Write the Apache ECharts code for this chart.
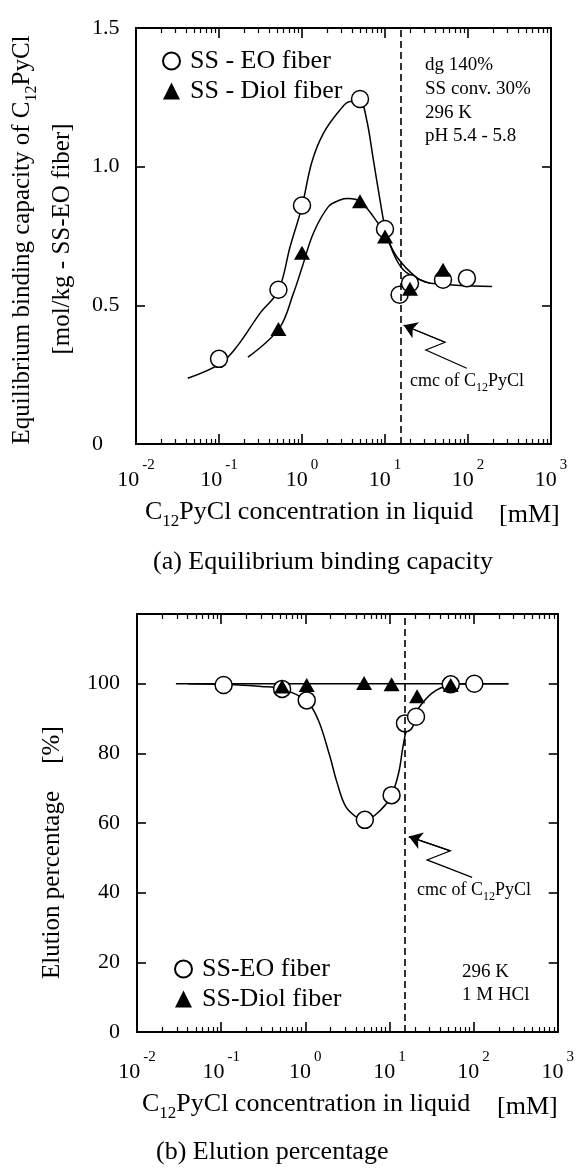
<!DOCTYPE html>
<html><head><meta charset="utf-8">
<script src="https://cdn.jsdelivr.net/npm/echarts@6/dist/echarts.min.js"></script>
<style>html,body{margin:0;padding:0;background:#fff}#c{width:577px;height:1170px}</style>
</head><body><div id="c"></div>
<script>
// ---------------- data ----------------
const xMajor = [0.01, 0.1, 1, 10, 100, 1000];
const xMinor = [0.02,0.03,0.04,0.05,0.06,0.07,0.08,0.09,
                0.2,0.3,0.4,0.5,0.6,0.7,0.8,0.9,
                2,3,4,5,6,7,8,9,
                20,30,40,50,60,70,80,90,
                200,300,400,500,600,700,800,900];
const cmcConc = 15.3;

// (a) Equilibrium binding capacity
const eoConcA   = [0.1, 0.52, 1.0, 5.0, 10, 15, 20, 50, 97];
const eoCapA    = [0.307, 0.556, 0.86, 1.244, 0.775, 0.538, 0.58, 0.592, 0.598];
const diolConcA = [0.52, 1.0, 5.0, 10, 20, 50];
const diolCapA  = [0.415, 0.69, 0.875, 0.748, 0.56, 0.628];
const eoFitConcA = [0.042, 0.104, 0.164, 0.313, 0.52, 0.72, 1.0, 1.31, 1.81, 2.88, 3.8, 5.0, 6.0, 7.24, 8.7, 10.1, 12.6, 16.6, 24, 35, 195];
const eoFitCapA  = [0.237, 0.29, 0.351, 0.472, 0.553, 0.712, 0.857, 1.015, 1.12, 1.205, 1.235, 1.235, 1.17, 1.025, 0.88, 0.775, 0.688, 0.628, 0.598, 0.58, 0.568];
const diolFitConcA = [0.223, 0.535, 0.79, 1.01, 1.37, 2.08, 2.88, 3.6, 5.0, 7.24, 10, 13.8, 24, 35];
const diolFitCapA  = [0.313, 0.418, 0.544, 0.64, 0.76, 0.856, 0.88, 0.885, 0.875, 0.82, 0.757, 0.676, 0.6, 0.58];
const arrowA = [[96.6, 0.273], [31, 0.339], [53, 0.367], [16.8, 0.428]];

// (b) Elution percentage
const eoConcB   = [0.107, 0.53, 1.04, 5.1, 10.6, 15.3, 20.7, 53.5, 102];
const eoElB     = [99.6, 98.5, 95.2, 60.9, 68, 88.6, 90.5, 99.8, 100];
const diolConcB = [0.53, 1.04, 5.0, 10.6, 21.3, 53.5];
const diolElB   = [99.2, 99.6, 100.2, 99.8, 96.4, 99.6];
const eoFitConcB = [0.04, 0.107, 0.3, 0.53, 1.04, 1.43, 1.94, 2.37, 3.04, 4.3, 5.1, 7.85, 10.6, 12.9, 14.5, 16.5, 20, 31.8, 53.5, 102, 259];
const eoFitElB   = [100, 99.8, 99.2, 98.5, 95, 89.5, 79.5, 71.8, 64.6, 61.2, 60.8, 63.7, 68, 74.5, 82, 88, 91.5, 97.2, 99.6, 100, 100];
const diolFitConcB = [0.029, 259];
const diolFitElB   = [100, 100];
const arrowB = [[96, 44.4], [28, 49.4], [53, 52], [17, 56.1]];

const yTicksA = [0, 0.5, 1.0, 1.5];
const yTicksB = [0, 20, 40, 60, 80, 100, 120];

// ---------------- chart ----------------
const FONT = '"Liberation Serif", "Times New Roman", serif';
const chart = echarts.init(document.getElementById('c'));
const zip = (a, b) => a.map((v, i) => [v, b[i]]);

function xAxesFor(gridIndex, labelMargin) {
  const base = {
    type: 'log', logBase: 10, min: xMajor[0], max: xMajor[xMajor.length - 1], gridIndex,
    splitLine: { show: false },
    axisLine: { show: true, lineStyle: { color: '#000', width: 2 } }
  };
  const minorTick = { show: true, inside: true, length: 5, customValues: xMinor, lineStyle: { color: '#000', width: 1.2 } };
  const majorTick = { show: true, inside: true, length: 10, customValues: xMajor, lineStyle: { color: '#000', width: 1.6 } };
  return [
    Object.assign({}, base, { position: 'bottom', axisTick: minorTick, axisLabel: { show: false } }),
    Object.assign({}, base, {
      position: 'bottom', axisTick: majorTick,
      axisLabel: {
        show: true, customValues: xMajor, margin: labelMargin,
        formatter: v => '{b|10}{s|' + Math.round(Math.log10(v)) + '}',
        rich: {
          b: { fontFamily: FONT, fontSize: 22, color: '#000', verticalAlign: 'bottom', lineHeight: 22 },
          s: { fontFamily: FONT, fontSize: 15, color: '#000', verticalAlign: 'bottom', padding: [0, 0, 18, 3] }
        }
      }
    }),
    Object.assign({}, base, { position: 'top', axisTick: minorTick, axisLabel: { show: false } }),
    Object.assign({}, base, { position: 'top', axisTick: majorTick, axisLabel: { show: false } })
  ];
}

function yAxesFor(gridIndex, min, max, interval, fmt, labelOpts) {
  const base = {
    type: 'value', min, max, interval, gridIndex,
    splitLine: { show: false },
    axisLine: { show: true, lineStyle: { color: '#000', width: 2 } },
    axisTick: { show: true, inside: true, length: 9, lineStyle: { color: '#000', width: 1.6 } }
  };
  return [
    Object.assign({}, base, { position: 'left',
      axisLabel: Object.assign({ show: true, formatter: fmt, fontFamily: FONT, fontSize: 22, color: '#000' }, labelOpts) }),
    Object.assign({}, base, { position: 'right', axisLabel: { show: false } })
  ];
}

const xAxes = xAxesFor(0, 14).concat(xAxesFor(1, 18));
const yAxes = yAxesFor(0, yTicksA[0], yTicksA[yTicksA.length - 1], 0.5,
                      v => (v === 0 ? '0' : v.toFixed(1)), { align: 'left', margin: 44 })
  .concat(yAxesFor(1, yTicksB[0], yTicksB[yTicksB.length - 1], 20,
                      v => (v === 120 ? '' : String(v)), { margin: 17 }));

const fitLine = (name, data, xi, yi) => ({
  name, type: 'line', data, xAxisIndex: xi, yAxisIndex: yi, showSymbol: false, symbol: 'none',
  smooth: 0.35, lineStyle: { color: '#000', width: 1.5 }, z: 2, silent: true
});
const dashed = {
  silent: true, symbol: 'none', label: { show: false },
  lineStyle: { type: [7, 4], color: '#000', width: 1.6 },
  data: [{ xAxis: cmcConc }]
};
const circles = (name, data, xi, yi) => ({
  name, type: 'scatter', data, xAxisIndex: xi, yAxisIndex: yi, symbol: 'circle', symbolSize: 17,
  itemStyle: { color: '#fff', borderColor: '#000', borderWidth: 1.5, opacity: 1 }, z: 4,
  markLine: dashed
});
const triangles = (name, data, xi, yi) => ({
  name, type: 'scatter', data, xAxisIndex: xi, yAxisIndex: yi, symbol: 'triangle', symbolSize: [16, 14],
  itemStyle: { color: '#000', borderColor: '#000', borderWidth: 0, opacity: 1 }, z: 5
});
// zigzag pointer: polyline body + arrow-headed last segment
const zigzag = (data, xi, yi) => ({
  type: 'lines', coordinateSystem: 'cartesian2d', xAxisIndex: xi, yAxisIndex: yi, polyline: true,
  silent: true, lineStyle: { color: '#000', width: 1.2, opacity: 1 }, data: [{ coords: data }], z: 3
});
const arrowHead = (data, xi, yi) => ({
  type: 'lines', coordinateSystem: 'cartesian2d', xAxisIndex: xi, yAxisIndex: yi, polyline: false,
  symbol: ['none', 'arrow'], symbolSize: [9, 13], silent: true,
  lineStyle: { color: '#000', width: 1.2, opacity: 1 },
  data: [{ coords: data.slice(data.length - 2) }], z: 3
});

const subRich = (size, subSize) => ({
  n: { fontFamily: FONT, fontSize: size, fill: '#000', verticalAlign: 'bottom', padding: [0, 0, Math.round(size * 0.2), 0] },
  s: { fontFamily: FONT, fontSize: subSize, fill: '#000', verticalAlign: 'bottom' }
});
const text = (x, y, t, size, rotation, align) => ({
  type: 'text', x, y, silent: true, rotation: rotation || 0,
  style: { text: t, fontFamily: FONT, fontSize: size, fill: '#000', align: align || 'left', verticalAlign: 'middle' }
});
const richText = (x, y, t, size, subSize, align, rotation) => ({
  type: 'text', x, y, silent: true, rotation: rotation || 0,
  style: { text: t, rich: subRich(size, subSize), fontFamily: FONT, fontSize: size, fill: '#000',
           align: align || 'left', verticalAlign: 'middle' }
});

const option = {
  backgroundColor: '#fff',
  animation: false,
  grid: [
    { left: 136, top: 28, width: 415, height: 416 },
    { left: 137, top: 614, width: 424, height: 418 }
  ],
  xAxis: xAxes,
  yAxis: yAxes,
  legend: [
    { data: ['SS - EO fiber', 'SS - Diol fiber'], orient: 'vertical', left: 157, top: 43,
      itemWidth: 17, itemHeight: 17, itemGap: 4, selectedMode: false,
      textStyle: { fontFamily: FONT, fontSize: 26, color: '#000', padding: [0, 0, 0, 5] } },
    { data: ['SS-EO fiber', 'SS-Diol fiber'], orient: 'vertical', left: 169, top: 951,
      itemWidth: 17, itemHeight: 17, itemGap: 4, selectedMode: false,
      textStyle: { fontFamily: FONT, fontSize: 26, color: '#000', padding: [0, 0, 0, 5] } }
  ],
  series: [
    fitLine('fitEO_a', zip(eoFitConcA, eoFitCapA), 1, 0),
    fitLine('fitDiol_a', zip(diolFitConcA, diolFitCapA), 1, 0),
    zigzag(arrowA, 1, 0),
    arrowHead(arrowA, 1, 0),
    circles('SS - EO fiber', zip(eoConcA, eoCapA), 1, 0),
    triangles('SS - Diol fiber', zip(diolConcA, diolCapA), 1, 0),

    fitLine('fitDiol_b', zip(diolFitConcB, diolFitElB), 5, 2),
    fitLine('fitEO_b', zip(eoFitConcB, eoFitElB), 5, 2),
    zigzag(arrowB, 5, 2),
    arrowHead(arrowB, 5, 2),
    circles('SS-EO fiber', zip(eoConcB, eoElB), 5, 2),
    triangles('SS-Diol fiber', zip(diolConcB, diolElB), 5, 2)
  ],
  graphic: [
    // (a) axis titles
    richText(25, 240, '{n|Equilibrium binding capacity of C}{s|12}{n|PyCl}', 25, 16, 'center', Math.PI / 2),
    text(62, 239, '[mol/kg - SS-EO fiber]', 25, Math.PI / 2, 'center'),
    richText(145, 515, '{n|C}{s|12}{n|PyCl concentration in liquid}', 26, 17, 'left'),
    text(499, 515, '[mM]', 26),
    text(153, 562, '(a) Equilibrium binding capacity', 26),
    // (a) annotations
    text(425, 65, 'dg 140%', 19),
    text(425, 89, 'SS conv. 30%', 19),
    text(425, 113, '296 K', 19),
    text(425, 136, 'pH 5.4 - 5.8', 19),
    richText(410, 383, '{n|cmc of C}{s|12}{n|PyCl}', 18, 12, 'left'),

    // (b) axis titles
    text(52, 885, 'Elution percentage', 25, Math.PI / 2, 'center'),
    text(52, 745, '[%]', 25, Math.PI / 2, 'center'),
    richText(142, 1107, '{n|C}{s|12}{n|PyCl concentration in liquid}', 26, 17, 'left'),
    text(497, 1107, '[mM]', 26),
    text(156, 1152, '(b) Elution percentage', 26),
    // (b) annotations
    text(462, 972, '296 K', 19),
    text(462, 995, '1 M HCl', 19),
    richText(417, 892, '{n|cmc of C}{s|12}{n|PyCl}', 18, 12, 'left')
  ]
};
chart.setOption(option);
</script>
</body></html>
